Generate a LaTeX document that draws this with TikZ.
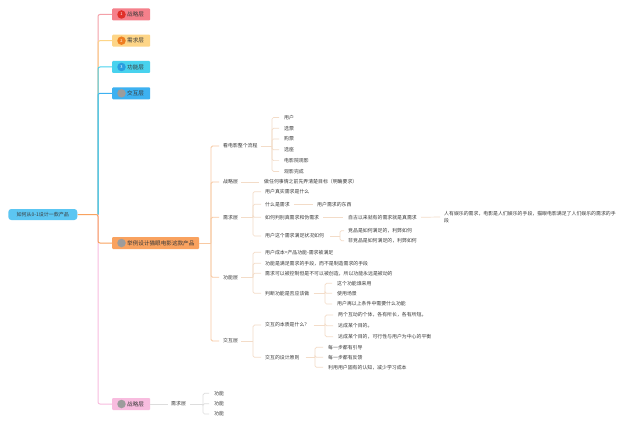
\documentclass[tikz,border=0pt]{standalone}
\usepackage{fontspec}
\setmainfont{Noto Sans CJK SC}
\usetikzlibrary{calc}
\definecolor{txt}{HTML}{3A3A3A}
\definecolor{f1}{HTML}{F5808B}
\definecolor{f2}{HTML}{FDD587}
\definecolor{f3}{HTML}{48D2EE}
\definecolor{f4}{HTML}{3DB1F1}
\definecolor{f5}{HTML}{F9A25F}
\definecolor{f6}{HTML}{F8BCDF}
\definecolor{fr}{HTML}{5CC6F2}
\definecolor{p1}{HTML}{F4A0A8}
\definecolor{d1}{HTML}{E0302A}
\definecolor{d2}{HTML}{EE7D20}
\definecolor{d3}{HTML}{2A9DE0}
\definecolor{dg}{HTML}{9C9C9C}
\definecolor{lA}{HTML}{F8C9A2}
\definecolor{lB}{HTML}{F3DCC8}
\definecolor{lC}{HTML}{DDDDDD}
\begin{document}
\begin{tikzpicture}[x=1pt,y=-1pt,
  lbl/.style={anchor=west, inner sep=0pt, font=\fontsize{4.9}{6}\selectfont, text=txt},
  btx/.style={anchor=west, inner sep=0pt, font=\fontsize{5.6}{6}\selectfont, text=txt},
  bx/.style={anchor=west, rectangle, rounded corners=1pt, minimum height=12pt, inner sep=0pt, draw=none},
  num/.style={circle, minimum size=8.5pt, inner sep=0pt, font=\fontsize{4}{4}\selectfont, text=white},
  trunk/.style={line width=1pt, rounded corners=2pt},
  lnA/.style={draw=lA, line width=0.8pt, rounded corners=1.5pt},
  lnB/.style={draw=lB, line width=0.7pt, rounded corners=1.5pt},
  lnC/.style={draw=lC, line width=0.7pt, rounded corners=1.5pt}]
\useasboundingbox[fill=white] (0,0) rectangle (640,428);

% root
\node[rectangle, rounded corners=3pt, fill=fr, minimum width=69pt, minimum height=11pt, inner sep=0pt,
  font=\fontsize{5}{6}\selectfont, text=txt] (root) at (42.8,214.5) {如何从0-1设计一款产品};
\coordinate (j) at (98,214.5);

% branch boxes
\node[bx, fill=f1, minimum width=38pt] (b1) at (112,14.5) {};
\node[num, fill=d1] (n1) at (121.5,14.5) {1};
\node[btx] (t1) at (127,14.5) {战略层};
\node[bx, fill=f2, minimum width=38pt] (b2) at (112,40.7) {};
\node[num, fill=d2] (n2) at (121.5,40.7) {2};
\node[btx] (t2) at (127,40.7) {需求层};
\node[bx, fill=f3, minimum width=38pt] (b3) at (112,67) {};
\node[num, fill=d3] (n3) at (121.5,67) {3};
\node[btx] (t3) at (127,67) {功能层};
\node[bx, fill=f4, minimum width=38pt] (b4) at (112,93.3) {};
\node[num, fill=dg] (n4) at (121.5,93.3) {};
\node[btx] (t4) at (127,93.3) {交互层};
\node[bx, fill=f5, minimum width=87pt] (b5) at (112,243) {};
\node[num, fill=dg] (n5) at (121.5,243) {};
\node[btx] (t5) at (127,243) {举例设计猫眼电影这款产品};
\node[bx, fill=f6, minimum width=38pt] (b6) at (112,404) {};
\node[num, fill=dg] (n6) at (121.5,404) {};
\node[btx] (t6) at (127,404) {战略层};

% trunk connectors
\draw[trunk, draw=p1] (j) |- (b1.west);
\draw[trunk, draw=f2] (j) |- (b2.west);
\draw[trunk, draw=f4] (j) |- (b4.west);
\draw[trunk, draw=f3] (j) |- (b3.west);
\draw[trunk, draw=f6] (j) |- (b6.west);
\draw[trunk, draw=f5] (root.east) -- (j) |- (b5.west);

% level 2 under b5
\node[lbl] (k1) at (223,146) {看电影整个流程};
\node[lbl] (k2) at (223,182) {战略层};
\node[lbl] (k3) at (223,217.3) {需求层};
\node[lbl] (k4) at (223,277.3) {功能层};
\node[lbl] (k5) at (223,341) {交互层};
\coordinate (s5) at (211,0);
\draw[lnA] (b5.east) -- (b5.east -| s5);
\foreach \k in {k1,k2,k3,k4,k5}{\draw[lnA] (b5.east -| s5) |- ([xshift=-4pt]\k.west);}

% k1 children
\node[lbl] (a1) at (284,117.5) {用户};
\node[lbl] (a2) at (284,128.3) {选票};
\node[lbl] (a3) at (284,139) {购票};
\node[lbl] (a4) at (284,149.8) {选座};
\node[lbl] (a5) at (284,160.6) {电影院观影};
\node[lbl] (a6) at (284,171.4) {观影完成};
\coordinate (s1) at (272,0);
\draw[lnB] ([xshift=3pt]k1.east) -- (k1.east -| s1);
\foreach \k in {a1,a2,a3,a4,a5,a6}{\draw[lnB] (k1.east -| s1) |- ([xshift=-5pt]\k.west);}

% k2 child
\node[lbl] (m1) at (264,182) {做任何事情之前先弄清楚目标（明确要求）};
\draw[lnB] ([xshift=3pt]k2.east) -- ([xshift=-5pt]m1.west);

% k3 children
\node[lbl] (r1) at (265,191.7) {用户真实需求是什么};
\node[lbl] (r2) at (265,204.3) {什么是需求};
\node[lbl] (r3) at (265,217.3) {如何判别真需求和伪需求};
\node[lbl] (r4) at (265,236) {用户这个需求满足状况如何};
\coordinate (s3) at (253,0);
\draw[lnB] ([xshift=3pt]k3.east) -- (k3.east -| s3);
\foreach \k in {r1,r2,r3,r4}{\draw[lnB] (k3.east -| s3) |- ([xshift=-4pt]\k.west);}
\node[lbl] (r21) at (317,204.3) {用户需求的东西};
\draw[lnB] ([xshift=4pt]r2.east) -- ([xshift=-4pt]r21.west);
\node[lbl] (r31) at (348,217.3) {自古以来就有的需求就是真需求};
\draw[lnB] ([xshift=4pt]r3.east) -- ([xshift=-5pt]r31.west);
\node[lbl, align=left, font=\fontsize{4.9}{7.4}\selectfont] (r311) at (444,217) {人有娱乐的需求，电影是人们娱乐的手段，猫眼电影满足了人们娱乐的需求的手\\段};
\draw[lnB] ([xshift=4pt]r31.east) -- ([xshift=-4pt]r311.west);
\node[lbl] (r41) at (348,230.7) {竞品是如何满足的，利弊如何};
\node[lbl] (r42) at (348,240.7) {非竞品是如何满足的，利弊如何};
\coordinate (s34) at (340,0);
\draw[lnB] ([xshift=6pt]r4.east) -- (r4.east -| s34);
\foreach \k in {r41,r42}{\draw[lnB] (r4.east -| s34) |- ([xshift=-4pt]\k.west);}

% k4 children
\node[lbl] (g1) at (265,252.3) {用户成本=产品功能-需求被满足};
\node[lbl] (g2) at (265,263.3) {功能是满足需求的手段，而不是制造需求的手段};
\node[lbl] (g3) at (265,273.3) {需求可以被控制但是不可以被创造，所以功能永远是被动的};
\node[lbl] (g4) at (265,293.3) {判断功能是否应该做};
\draw[lnB] ([xshift=3pt]k4.east) -- (k4.east -| s3);
\foreach \k in {g1,g2,g3,g4}{\draw[lnB] (k4.east -| s3) |- ([xshift=-4pt]\k.west);}
\node[lbl] (g41) at (337,283.3) {这个功能谁来用};
\node[lbl] (g42) at (337,293.3) {使用场景};
\node[lbl] (g43) at (337,304) {用户再以上条件中需要什么功能};
\coordinate (s44) at (325,0);
\draw[lnB] ([xshift=4pt]g4.east) -- (g4.east -| s44);
\foreach \k in {g41,g42,g43}{\draw[lnB] (g4.east -| s44) |- ([xshift=-5pt]\k.west);}

% k5 children
\node[lbl] (h1) at (265,325) {交互的本质是什么？};
\node[lbl] (h2) at (265,357.3) {交互的设计原则};
\draw[lnB] ([xshift=3pt]k5.east) -- (k5.east -| s3);
\foreach \k in {h1,h2}{\draw[lnB] (k5.east -| s3) |- ([xshift=-4pt]\k.west);}
\node[lbl] (h11) at (338,315) {两个互动的个体，各有所长，各有所短。};
\node[lbl] (h12) at (338,325.7) {达成某个目的。};
\node[lbl] (h13) at (338,336.7) {达成某个目的，可行性与用户为中心的平衡};
\coordinate (s51) at (325,0);
\draw[lnB] ([xshift=4pt]h1.east) -- (h1.east -| s51);
\foreach \k in {h11,h12,h13}{\draw[lnB] (h1.east -| s51) |- ([xshift=-5pt]\k.west);}
\node[lbl] (h21) at (328,347.3) {每一步都有引导};
\node[lbl] (h22) at (328,357.3) {每一步都有反馈};
\node[lbl] (h23) at (328,367.3) {利用用户固有的认知，减少学习成本};
\coordinate (s52) at (315,0);
\draw[lnB] ([xshift=6pt]h2.east) -- (h2.east -| s52);
\foreach \k in {h21,h22,h23}{\draw[lnB] (h2.east -| s52) |- ([xshift=-5pt]\k.west);}

% b6 children
\node[lbl] (q1) at (171,404) {需求层};
\draw[lnC] (b6.east) -- ([xshift=-3pt]q1.west);
\node[lbl] (q11) at (214,393.3) {功能};
\node[lbl] (q12) at (214,403.7) {功能};
\node[lbl] (q13) at (214,414) {功能};
\coordinate (s6) at (203,0);
\draw[lnC] ([xshift=4pt]q1.east) -- (q1.east -| s6);
\foreach \k in {q11,q12,q13}{\draw[lnC] (q1.east -| s6) |- ([xshift=-5pt]\k.west);}
\end{tikzpicture}
\end{document}
